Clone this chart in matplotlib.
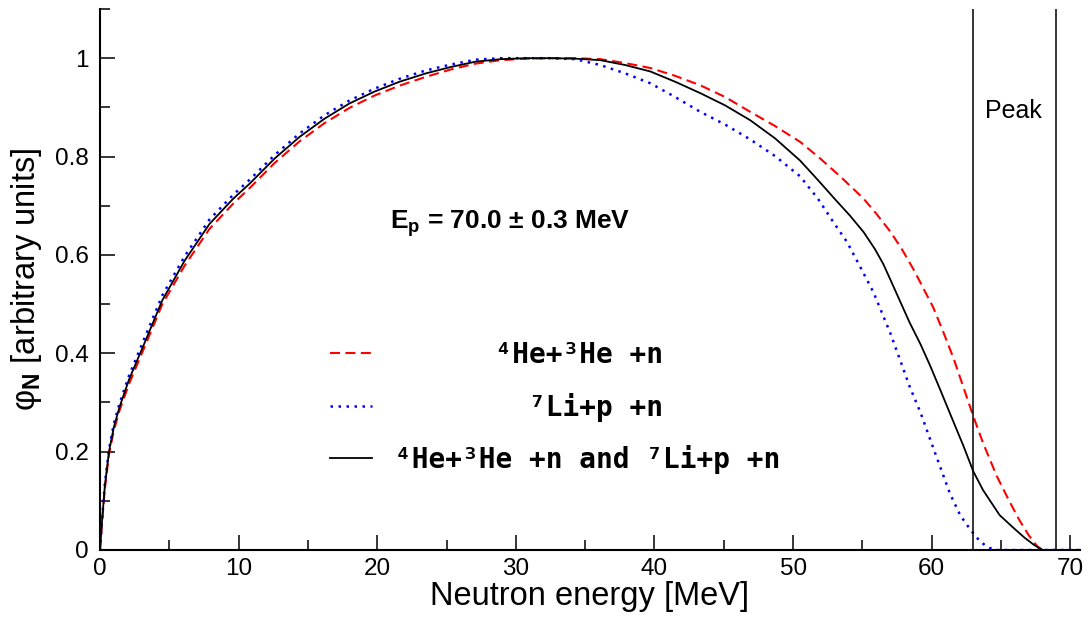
import matplotlib
matplotlib.use("Agg")
import matplotlib.pyplot as plt
from matplotlib.ticker import MultipleLocator, FormatStrFormatter
from matplotlib.lines import Line2D

plt.rcParams['font.family'] = ['Liberation Sans', 'DejaVu Sans']
plt.rcParams['mathtext.fontset'] = 'custom'
plt.rcParams['mathtext.rm'] = 'Liberation Sans'
plt.rcParams['mathtext.it'] = 'Liberation Sans:italic'
plt.rcParams['mathtext.bf'] = 'Liberation Sans:bold'

# 4He + 3He + n channel
e_he = [0, 0.15, 0.35, 0.65, 1.0, 1.4, 2.1, 3.2, 4.5, 6.1, 7.9, 9.6, 10.8, 12.6,
        14.4, 16.2, 18.0, 19.8, 21.6, 23.5, 25.3, 27.1, 28.9, 30.7, 32.5, 34.3,
        36.1, 37.9, 39.7, 41.5, 43.3, 45.1, 46.9, 48.7, 50.5, 52.0, 53.5, 55.1,
        56.0, 57.0, 57.8, 58.7, 59.4, 60.1, 60.8, 61.6, 62.3, 63.0, 63.7, 64.7,
        65.5, 66.3, 67.0, 67.6, 68.0, 70.7]
phi_he = [0, 0.058, 0.125, 0.195, 0.243, 0.283, 0.338, 0.412, 0.50, 0.578, 0.653,
          0.704, 0.736, 0.787, 0.831, 0.868, 0.899, 0.924, 0.944, 0.962, 0.977,
          0.989, 0.996, 0.999, 1.0, 1.0, 0.998, 0.990, 0.980, 0.964, 0.945, 0.921,
          0.891, 0.862, 0.830, 0.795, 0.757, 0.714, 0.684, 0.648, 0.614, 0.570,
          0.532, 0.494, 0.446, 0.388, 0.330, 0.272, 0.218, 0.150, 0.105, 0.062,
          0.030, 0.008, 0.0, 0.0]

# 7Li + p + n channel
e_li = [0, 0.15, 0.35, 0.65, 1.0, 1.4, 2.1, 3.2, 4.5, 6.1, 7.9, 9.6, 10.8, 12.6,
        14.4, 16.2, 18.0, 19.8, 21.6, 23.5, 25.3, 27.1, 28.9, 30.7, 32.5, 34.3,
        36.1, 37.9, 39.7, 41.5, 43.3, 45.1, 46.9, 48.7, 50.5, 51.8, 52.9, 53.9,
        54.8, 55.8, 56.4, 57.0, 57.7, 58.4, 59.2, 59.9, 60.6, 61.3, 62.05, 62.8,
        63.5, 64.0, 64.5, 70.7]
phi_li = [0, 0.062, 0.135, 0.205, 0.257, 0.297, 0.355, 0.43, 0.518, 0.597, 0.672,
          0.722, 0.753, 0.803, 0.847, 0.884, 0.914, 0.938, 0.958, 0.975, 0.987,
          0.997, 1.0, 1.0, 1.0, 0.998, 0.986, 0.969, 0.949, 0.921, 0.891, 0.865,
          0.835, 0.801, 0.760, 0.714, 0.667, 0.626, 0.578, 0.524, 0.483, 0.442,
          0.388, 0.333, 0.279, 0.224, 0.170, 0.116, 0.071, 0.041, 0.017, 0.007,
          0.0, 0.0]

# both channels together
e_sum = [0, 0.15, 0.35, 0.65, 1.0, 1.4, 2.1, 3.2, 4.5, 6.1, 7.9, 9.6, 10.8, 12.6,
         14.4, 16.2, 18.0, 19.8, 21.6, 23.5, 25.3, 27.1, 28.9, 30.7, 32.5, 34.3,
         36.1, 37.9, 39.7, 41.5, 43.3, 45.1, 46.9, 48.7, 50.5, 51.8, 53.0, 54.1,
         55.1, 55.9, 56.5, 57.0, 57.7, 58.4, 59.2, 59.9, 60.6, 61.3, 62.3, 63.0,
         63.7, 64.9, 65.9, 66.7, 67.4, 68.0, 70.7]
phi_sum = [0, 0.06, 0.13, 0.20, 0.25, 0.29, 0.347, 0.42, 0.508, 0.588, 0.663,
           0.714, 0.745, 0.796, 0.840, 0.877, 0.908, 0.932, 0.952, 0.969, 0.982,
           0.993, 0.998, 1.0, 1.0, 0.999, 0.996, 0.986, 0.973, 0.952, 0.929,
           0.904, 0.874, 0.837, 0.792, 0.752, 0.714, 0.680, 0.646, 0.612, 0.582,
           0.551, 0.507, 0.463, 0.418, 0.374, 0.327, 0.279, 0.211, 0.160, 0.122,
           0.071, 0.045, 0.025, 0.010, 0.0, 0.0]

peak_edges = [63.0, 69.0]

lab_he = "⁴He+³He +n"
lab_li = "⁷Li+p +n"
lab_both = "⁴He+³He +n and ⁷Li+p +n"

fig = plt.figure(figsize=(10.89, 6.26), dpi=100)
ax = fig.add_axes([100 / 1089, 76 / 626, 980 / 1089, 541 / 626])

ax.plot(e_he, phi_he, color='#ff0000', lw=1.5, dashes=(4.8, 2.6))
ax.plot(e_li, phi_li, color='#0000ff', lw=1.8, dashes=(1, 2.2))
ax.plot(e_sum, phi_sum, color='black', lw=1.3)

for x in peak_edges:
    ax.axvline(x, color='black', lw=1.1)

ax.set_xlim(0, 70.7)
ax.set_ylim(0, 1.1)
ax.xaxis.set_major_locator(MultipleLocator(10))
ax.xaxis.set_minor_locator(MultipleLocator(5))
ax.yaxis.set_minor_locator(MultipleLocator(0.1))
ax.set_yticks([0, 0.2, 0.4, 0.6, 0.8, 1.0])
ax.yaxis.set_major_formatter(FormatStrFormatter('%g'))

for side in ['top', 'right']:
    ax.spines[side].set_visible(False)
for side in ['left', 'bottom']:
    ax.spines[side].set_linewidth(1.5)

ax.tick_params(which='both', direction='in', width=1.1, labelsize=17.5)
ax.tick_params(which='major', length=11)
ax.tick_params(which='minor', length=7)
ax.tick_params(axis='x', pad=5.5)
ax.tick_params(axis='y', pad=8)

ax.set_xlabel("Neutron energy [MeV]", fontsize=23.5, labelpad=1)
ax.set_ylabel(r"φ$_\mathbf{N}$ [arbitrary units]", fontsize=23.5, labelpad=8)

ax.text(20.9, 0.663, r"E$_\mathregular{p}$ = 70.0 ± 0.3 MeV", fontsize=19,
        fontweight='bold', ha='left', va='center')
ax.text(63.85, 0.892, "Peak", fontsize=18, ha='left', va='center')

handles = [
    Line2D([], [], color='#ff0000', lw=1.5, dashes=(4.8, 2.6)),
    Line2D([], [], color='#0000ff', lw=1.8, dashes=(1, 2.2)),
    Line2D([], [], color='black', lw=1.3),
]
labels = [" " * 6 + lab_he, " " * 8 + lab_li, lab_both]
ax.legend(handles, labels, loc='upper left', bbox_to_anchor=(16.6, 0.425),
          bbox_transform=ax.transData, frameon=False, borderpad=0,
          borderaxespad=0, handlelength=1.5, handletextpad=0.85,
          labelspacing=0.85,
          prop={'family': 'DejaVu Sans Mono', 'weight': 'bold', 'size': 20})

fig.savefig("out.png", dpi=100)
